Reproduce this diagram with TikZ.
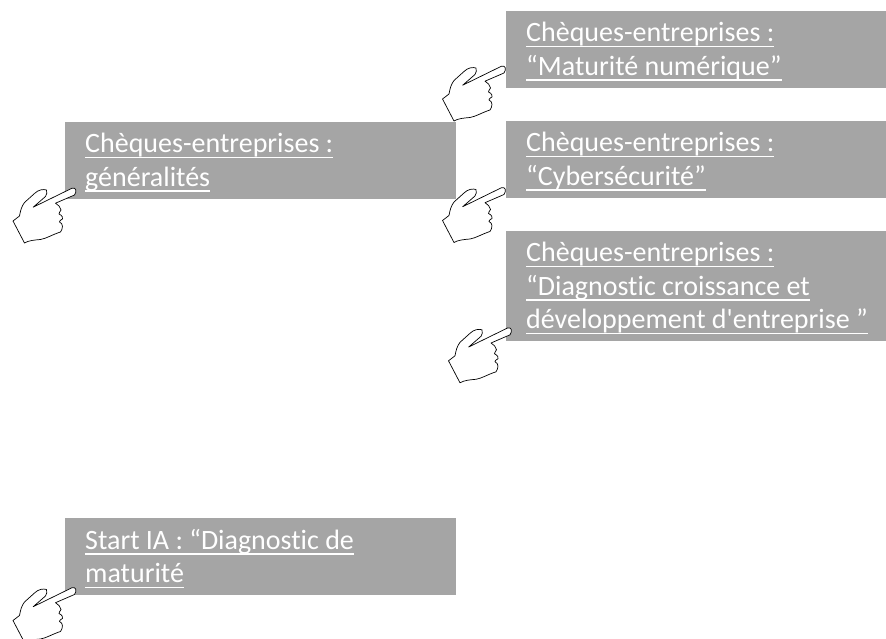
\documentclass[tikz,border=0pt]{standalone}
\usepackage{fontspec}
\newfontfamily\linkfont{Carlito}[Ligatures=NoCommon]
\definecolor{boxgray}{HTML}{A5A5A5}
\newsavebox{\linkbody}
\newcommand{\linkline}[1]{\leavevmode\sbox{\linkbody}{\spaceskip=6.3pt\relax #1}\raisebox{-9pt}[0pt][0pt]{\rlap{\rule[-5.5pt]{\wd\linkbody}{1.4pt}}\usebox{\linkbody}}}
\tikzset{
  linkbox/.style={fill=boxgray, text=white, anchor=north west, align=left, inner xsep=20pt, inner ysep=0pt,
    font=\linkfont\fontsize{28}{33.4}\selectfont},
  pics/hand/.style={code={
    \draw[black, fill=white, line width=0.7pt, line join=round]
      (-43.3,16.7) -- (-4.5,-2.3) .. controls (-1,-3.5) and (1,0.5) .. (-2,4.5)
      -- (-21,12.7) .. controls (-18,14) and (-16,17) .. (-15.5,19.5)
      .. controls (-17,21) and (-17,22.5) .. (-17.5,23.5)
      .. controls (-14,25) and (-13.5,27.5) .. (-14,28.5)
      .. controls (-17,30) and (-17,31) .. (-17,31.5)
      .. controls (-13,33) and (-13.5,38) .. (-16,41.5)
      .. controls (-24,44) and (-30,48) .. (-36,49)
      .. controls (-42,49.5) and (-48,50) .. (-52,52.5)
      -- (-63.5,30.5) -- (-57,25.5)
      .. controls (-56,20) and (-55,16) .. (-52,12)
      -- (-42,3) .. controls (-38,-1) and (-33,-1.5) .. (-30,-0.5)
      .. controls (-29,2) and (-30,4) .. (-31,6) -- cycle;
  }}
}
\begin{document}
\begin{tikzpicture}[x=1pt,y=-1pt]
  \useasboundingbox (0,0) rectangle (886,639);

  % boxes on the left
  \node[linkbox, minimum width=391pt, minimum height=76.5pt, text width=351pt] (general) at (65,122)
    {\linkline{Chèques-entreprises :}\\ \linkline{généralités}};
  \node[linkbox, minimum width=391pt, minimum height=77pt, text width=351pt] (startia) at (65,518)
    {\linkline{Start IA : “Diagnostic de}\\ \linkline{maturité}};

  % boxes on the right
  \node[linkbox, minimum width=380pt, minimum height=77pt, text width=340pt] (maturite) at (506,11)
    {\linkline{Chèques-entreprises :}\\ \linkline{“Maturité numérique”}};
  \node[linkbox, minimum width=380pt, minimum height=77pt, text width=340pt] (cyber) at (506,121)
    {\linkline{Chèques-entreprises :}\\ \linkline{“Cybersécurité”}};
  \node[linkbox, minimum width=380pt, minimum height=110pt, text width=340pt] (croissance) at (506,231)
    {\linkline{Chèques-entreprises :}\\ \linkline{“Diagnostic croissance et}\\ \linkline{développement d'entreprise ”}};

  % hands
  \pic at (76.5,190.5) {hand};
  \pic at (76.5,590) {hand};
  \pic at (506,68.5) {hand};
  \pic at (506,190) {hand};
  \pic at (512,330.3) {hand};
\end{tikzpicture}
\end{document}
